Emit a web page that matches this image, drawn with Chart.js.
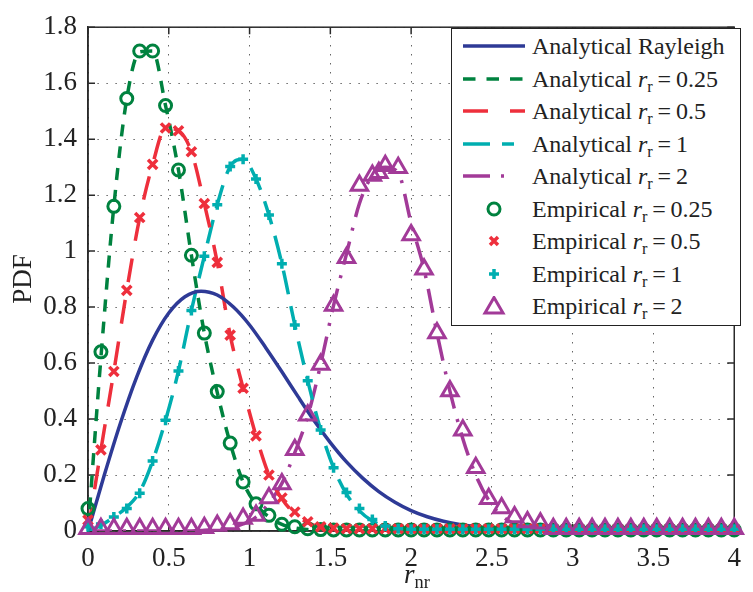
<!DOCTYPE html>
<html>
<head>
<meta charset="utf-8">
<script src="https://cdn.jsdelivr.net/npm/chart.js@4.4.1/dist/chart.umd.min.js"></script>
<style>
  html, body { margin: 0; padding: 0; background: #fff; }
  #wrap { position: relative; width: 753px; height: 592px; }
  #legend {
    position: absolute; left: 451px; top: 28px; width: 290px; height: 298px;
    box-sizing: border-box; border: 1.3px solid #222; background: #fff;
    font-family: 'Liberation Serif', serif; font-size: 24px; color: #222;
  }
  .row { position: absolute; left: 0; width: 100%; height: 32px; line-height: 32px; }
  .row svg { position: absolute; left: 10px; top: 6px; }
  .row span { position: absolute; left: 80px; top: 0; white-space: nowrap; }
  sub { font-size: 0.68em; vertical-align: -0.28em; line-height: 0; }
  #xt {
    position: absolute; left: 88px; width: 658px; top: 559px; text-align: center;
    font-family: 'Liberation Serif', serif; font-size: 27px; color: #222; line-height: 30px;
  }
</style>
</head>
<body>
<div id="wrap">
  <canvas id="c" width="753" height="592"></canvas>
  <div id="legend"></div>
  <div id="xt"><i>r</i><sub>nr</sub></div>
</div>
<script>
// empirical sample positions
const xEmp = [0, 0.08, 0.16, 0.24, 0.32, 0.40, 0.48, 0.56, 0.64, 0.72, 0.80, 0.88, 0.96, 1.04, 1.12, 1.20, 1.28,
  1.36, 1.44, 1.52, 1.60, 1.68, 1.76, 1.84, 1.92, 2.00, 2.08, 2.16, 2.24, 2.32, 2.40, 2.48, 2.56, 2.64, 2.72,
  2.80, 2.88, 2.96, 3.04, 3.12, 3.20, 3.28, 3.36, 3.44, 3.52, 3.60, 3.68, 3.76, 3.84, 3.92, 4.00];
const xTri = [0, 0.08, 0.16, 0.24, 0.32, 0.40, 0.48, 0.56, 0.64, 0.72, 0.80, 0.88, 0.96, 1.04, 1.12, 1.20, 1.28,
  1.36, 1.44, 1.52, 1.60, 1.68, 1.76, 1.80, 1.84, 1.92, 2.00, 2.08, 2.16, 2.24, 2.32, 2.40, 2.48, 2.56, 2.64, 2.72,
  2.80, 2.88, 2.96, 3.04, 3.12, 3.20, 3.28, 3.36, 3.44, 3.52, 3.60, 3.68, 3.76, 3.84, 3.92, 4.00];
const xRay = [0, 0.1, 0.2, 0.3, 0.4, 0.5, 0.6, 0.7, 0.8, 0.9, 1.0, 1.1, 1.2, 1.3, 1.4, 1.5, 1.6, 1.7, 1.8, 1.9,
  2.0, 2.1, 2.2, 2.3, 2.4, 2.5, 2.6, 2.7, 2.8, 2.9, 3.0, 3.1, 3.2, 3.3, 3.4, 3.5, 3.6, 3.7, 3.8, 3.9, 4.0];

// analytical curves
const rayleigh = [0, 0.198, 0.384, 0.548, 0.682, 0.779, 0.837, 0.857, 0.843, 0.800, 0.736, 0.655, 0.569, 0.480,
  0.394, 0.316, 0.247, 0.189, 0.141, 0.103, 0.073, 0.051, 0.035, 0.023, 0.015, 0.0096, 0.006, 0.0035, 0.002,
  0.001, 0.0007, 0, 0, 0, 0, 0, 0, 0, 0, 0, 0];
const anaR025 = [0, 0.62, 1.16, 1.545, 1.712, 1.715, 1.52, 1.29, 0.985, 0.707, 0.495, 0.314, 0.175, 0.095, 0.05,
  0.024, 0.011, 0.005, 0.002, 0, 0, 0, 0, 0, 0, 0, 0, 0, 0, 0, 0, 0, 0, 0, 0, 0, 0, 0, 0, 0, 0, 0, 0, 0, 0, 0,
  0, 0, 0, 0, 0];
const anaR05 = [0, 0.29, 0.57, 0.86, 1.12, 1.31, 1.44, 1.43, 1.355, 1.17, 0.96, 0.70, 0.51, 0.34, 0.20, 0.115,
  0.062, 0.03, 0.014, 0.006, 0.002, 0, 0, 0, 0, 0, 0, 0, 0, 0, 0, 0, 0, 0, 0, 0, 0, 0, 0, 0, 0, 0, 0, 0, 0, 0,
  0, 0, 0, 0, 0];
const anaR1 = [0, 0.02, 0.05, 0.085, 0.14, 0.25, 0.396, 0.572, 0.788, 0.982, 1.166, 1.302, 1.328, 1.258, 1.129,
  0.955, 0.736, 0.537, 0.361, 0.226, 0.132, 0.072, 0.036, 0.016, 0.006, 0.002, 0, 0, 0, 0, 0, 0, 0, 0, 0, 0, 0,
  0, 0, 0, 0, 0, 0, 0, 0, 0, 0, 0, 0, 0, 0];
const anaR2 = [0, 0, 0, 0, 0, 0, 0, 0, 0, 0.003, 0.006, 0.012, 0.025, 0.05, 0.10, 0.17, 0.28, 0.41, 0.595, 0.806,
  0.99, 1.17, 1.27, 1.30, 1.28, 1.10, 0.935, 0.707, 0.50, 0.33, 0.20, 0.11, 0.055, 0.025, 0.01, 0.004, 0, 0, 0,
  0, 0, 0, 0, 0, 0, 0, 0, 0, 0, 0, 0];

// empirical histograms
const empR025 = [0.08, 0.64, 1.16, 1.545, 1.715, 1.715, 1.52, 1.29, 0.985, 0.707, 0.498, 0.314, 0.175, 0.097,
  0.056, 0.024, 0.015, 0.008, 0.005, 0.004, 0.004, 0.004, 0.004, 0.004, 0.004, 0.004, 0.004, 0.004, 0.004,
  0.004, 0.004, 0.004, 0.004, 0.004, 0.004, 0.004, 0.004, 0.004, 0.004, 0.004, 0.004, 0.004, 0.004, 0.004,
  0.004, 0.004, 0.004, 0.004, 0.004, 0.004, 0.004];
const empR05 = [0.039, 0.29, 0.57, 0.86, 1.12, 1.31, 1.44, 1.43, 1.355, 1.17, 0.96, 0.70, 0.51, 0.34, 0.20, 0.118,
  0.068, 0.033, 0.015, 0.01, 0.008, 0.008, 0.008, 0.008, 0.008, 0.008, 0.008, 0.008, 0.008, 0.008, 0.008, 0.008,
  0.008, 0.008, 0.008, 0.008, 0.008, 0.008, 0.008, 0.008, 0.008, 0.008, 0.008, 0.008, 0.008, 0.008, 0.008,
  0.008, 0.008, 0.008, 0.008];
const empR1 = [0.015, 0.025, 0.05, 0.08, 0.135, 0.25, 0.396, 0.572, 0.788, 0.982, 1.166, 1.302, 1.328, 1.258,
  1.129, 0.955, 0.736, 0.537, 0.361, 0.226, 0.138, 0.08, 0.041, 0.018, 0.008, 0.006, 0.006, 0.006, 0.006, 0.006,
  0.006, 0.006, 0.006, 0.006, 0.006, 0.006, 0.006, 0.006, 0.006, 0.006, 0.006, 0.006, 0.006, 0.006, 0.006,
  0.006, 0.006, 0.006, 0.006, 0.006, 0.006];
const empR2 = [0.008, 0.008, 0.008, 0.008, 0.008, 0.008, 0.008, 0.008, 0.008, 0.012, 0.02, 0.025, 0.045, 0.055,
  0.118, 0.168, 0.29, 0.414, 0.595, 0.806, 0.976, 1.234, 1.27, 1.28, 1.305, 1.298, 1.058, 0.935, 0.707, 0.50,
  0.36, 0.226, 0.115, 0.082, 0.05, 0.032, 0.028, 0.008, 0.008, 0.008, 0.008, 0.008, 0.008, 0.008, 0.008, 0.008,
  0.008, 0.008, 0.008, 0.008, 0.008, 0.008];

const xTicks = [0, 0.5, 1, 1.5, 2, 2.5, 3, 3.5, 4];
const yTicks = [0, 0.2, 0.4, 0.6, 0.8, 1, 1.2, 1.4, 1.6, 1.8];

const BLUE = '#2e3a96', GREEN = '#00823f', RED = '#ee2f3c', CYAN = '#00aeb0', MAGENTA = '#a23a98';
const FONT = 'Liberation Serif';

const pts = (xs, ys) => xs.map((x, i) => ({x: x, y: ys[i]}));

function lineSet(label, xs, ys, color, dash) {
  return {
    label, data: pts(xs, ys), showLine: true, borderColor: color, borderWidth: 3.5, borderDash: dash,
    pointRadius: 0, pointHoverRadius: 0, cubicInterpolationMode: 'monotone', fill: false, order: 10
  };
}
function markSet(label, xs, ys, color, style, radius, width, order) {
  return {
    label, data: pts(xs, ys), showLine: false, pointStyle: style, pointRadius: radius,
    pointBorderColor: color, pointBackgroundColor: 'rgba(0,0,0,0)', pointBorderWidth: width,
    clip: false, order
  };
}

const datasets = [
  lineSet('Analytical Rayleigh', xRay, rayleigh, BLUE, []),
  lineSet('Analytical r=0.25', xEmp, anaR025, GREEN, [12, 10]),
  lineSet('Analytical r=0.5', xEmp, anaR05, RED, [24, 18]),
  lineSet('Analytical r=1', xEmp, anaR1, CYAN, [24, 12]),
  lineSet('Analytical r=2', xEmp, anaR2, MAGENTA, [24, 11, 3, 11]),
  markSet('Empirical r=0.25', xEmp, empR025, GREEN, 'circle', 6, 3, 4),
  markSet('Empirical r=0.5', xEmp, empR05, RED, 'crossRot', 6.5, 3.5, 3),
  markSet('Empirical r=1', xEmp, empR1, CYAN, 'cross', 5, 3.5, 2),
  markSet('Empirical r=2', xTri, empR2, MAGENTA, 'triangle', 9.5, 3, 1)
];

// box around the plot with inward tick marks
const framePlugin = {
  id: 'frame',
  beforeDatasetsDraw(chart) {
    const {ctx, chartArea: a, scales: {x, y}} = chart;
    ctx.save();
    ctx.strokeStyle = '#2a2a2a';
    ctx.lineWidth = 1.5;
    ctx.strokeRect(a.left, a.top, a.right - a.left, a.bottom - a.top);
    ctx.beginPath();
    xTicks.forEach(v => {
      const p = x.getPixelForValue(v);
      ctx.moveTo(p, a.bottom); ctx.lineTo(p, a.bottom - 7);
      ctx.moveTo(p, a.top); ctx.lineTo(p, a.top + 7);
    });
    yTicks.forEach(v => {
      const p = y.getPixelForValue(v);
      ctx.moveTo(a.left, p); ctx.lineTo(a.left + 7, p);
      ctx.moveTo(a.right, p); ctx.lineTo(a.right - 7, p);
    });
    ctx.stroke();
    ctx.restore();
  }
};

const gridOpts = {color: 'rgba(30,30,30,0.85)', lineWidth: 1, drawTicks: false};
const borderOpts = {display: true, color: '#2a2a2a', width: 1.5, dash: [1.2, 7.8]};

new Chart(document.getElementById('c').getContext('2d'), {
  type: 'scatter',
  data: {datasets},
  options: {
    responsive: false,
    devicePixelRatio: 1,
    animation: false,
    layout: {padding: {top: 19, right: 7, left: 0, bottom: 0}},
    plugins: {legend: {display: false}, tooltip: {enabled: false}},
    scales: {
      x: {
        type: 'linear', min: 0, max: 4,
        afterBuildTicks: s => { s.ticks = xTicks.map(v => ({value: v})); },
        ticks: {color: '#222', font: {family: FONT, size: 27}, padding: 12, maxRotation: 0, callback: v => String(v)},
        grid: gridOpts, border: borderOpts,
        afterFit: s => { s.height = 61; }
      },
      y: {
        type: 'linear', min: 0, max: 1.8,
        afterBuildTicks: s => { s.ticks = yTicks.map(v => ({value: v})); },
        ticks: {color: '#222', font: {family: FONT, size: 27}, padding: 11, callback: v => String(v)},
        grid: gridOpts, border: borderOpts,
        title: {display: true, text: 'PDF', color: '#222', font: {family: FONT, size: 27}, padding: {top: 8, bottom: 0}},
        afterFit: s => { s.width = 88; }
      }
    }
  },
  plugins: [framePlugin]
});

// legend (HTML so the subscripts stay real text)
const legendRows = [
  {text: 'Analytical Rayleigh', kind: 'line', color: BLUE, dash: ''},
  {text: 'Analytical <i>r</i><sub>r</sub>&thinsp;=&thinsp;0.25', kind: 'line', color: GREEN, dash: '12.5 11'},
  {text: 'Analytical <i>r</i><sub>r</sub>&thinsp;=&thinsp;0.5', kind: 'line', color: RED, dash: '25 22'},
  {text: 'Analytical <i>r</i><sub>r</sub>&thinsp;=&thinsp;1', kind: 'line', color: CYAN, dash: '27 12 12 12'},
  {text: 'Analytical <i>r</i><sub>r</sub>&thinsp;=&thinsp;2', kind: 'line', color: MAGENTA, dash: '27 11 3 30'},
  {text: 'Empirical <i>r</i><sub>r</sub>&thinsp;=&thinsp;0.25', kind: 'circle', color: GREEN},
  {text: 'Empirical <i>r</i><sub>r</sub>&thinsp;=&thinsp;0.5', kind: 'x', color: RED},
  {text: 'Empirical <i>r</i><sub>r</sub>&thinsp;=&thinsp;1', kind: 'plus', color: CYAN},
  {text: 'Empirical <i>r</i><sub>r</sub>&thinsp;=&thinsp;2', kind: 'tri', color: MAGENTA}
];
const leg = document.getElementById('legend');
legendRows.forEach((r, k) => {
  let g;
  if (r.kind === 'line') {
    g = `<line x1="1" y1="10" x2="63" y2="10" stroke="${r.color}" stroke-width="3.5" stroke-dasharray="${r.dash}"/>`;
  } else if (r.kind === 'circle') {
    g = `<circle cx="32" cy="10" r="6" fill="none" stroke="${r.color}" stroke-width="3"/>`;
  } else if (r.kind === 'x') {
    g = `<path d="M28 6L36 14M36 6L28 14" stroke="${r.color}" stroke-width="3.5"/>`;
  } else if (r.kind === 'plus') {
    g = `<path d="M32 5V15M27 10H37" stroke="${r.color}" stroke-width="3.5"/>`;
  } else {
    g = `<path d="M32 1.5L41 17H23Z" fill="none" stroke="${r.color}" stroke-width="3" stroke-linejoin="miter"/>`;
  }
  const div = document.createElement('div');
  div.className = 'row';
  div.style.top = (17 + 32.5 * k - 16) + 'px';
  div.innerHTML = `<svg width="66" height="20">${g}</svg><span>${r.text}</span>`;
  leg.appendChild(div);
});
</script>
</body>
</html>
